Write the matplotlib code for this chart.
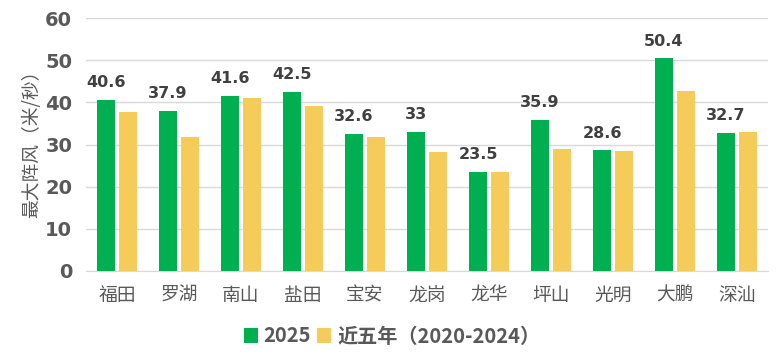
import matplotlib
matplotlib.use("Agg")
import matplotlib.pyplot as plt
import numpy as np

plt.rcParams['font.family'] = ['Noto Sans CJK SC', 'DejaVu Sans']

# Data
districts = ["福田", "罗湖", "南山", "盐田", "宝安", "龙岗", "龙华", "坪山", "光明", "大鹏", "深汕"]
gust_2025 = [40.6, 37.9, 41.6, 42.5, 32.6, 33, 23.5, 35.9, 28.6, 50.4, 32.7]
gust_5yr = [37.8, 31.8, 41.1, 39.2, 31.8, 28.3, 23.5, 29.0, 28.5, 42.8, 33.0]
labels_2025 = ["40.6", "37.9", "41.6", "42.5", "32.6", "33", "23.5", "35.9", "28.6", "50.4", "32.7"]

green = "#00b050"
yellow = "#f5cc5a"
gray = "#595959"

fig = plt.figure(figsize=(7.83, 3.63), dpi=100)
ax = fig.add_axes([86 / 783, 1 - 271 / 363, 682 / 783, 253 / 363])

x = np.arange(len(districts))
w = 0.29
off = 0.177
b1 = ax.bar(x - off, gust_2025, w, color=green, label="2025", zorder=3)
b2 = ax.bar(x + off, gust_5yr, w, color=yellow, label="近五年（2020-2024）", zorder=3)

# value labels on the 2025 bars
for rect, txt in zip(b1, labels_2025):
    ax.annotate(txt, (rect.get_x() + rect.get_width() / 2, rect.get_height()),
                xytext=(0, 7), textcoords="offset points", ha="center", va="bottom",
                fontsize=11.5, fontweight="bold", color="#404040", family="DejaVu Sans")

ax.set_xlim(-0.5, len(districts) - 0.5)
ax.set_ylim(0, 60)
ax.set_yticks(range(0, 61, 10))
ax.set_xticks(x)
ax.set_xticklabels(districts, fontsize=13.5, color=gray)
ax.set_yticklabels([str(v) for v in range(0, 61, 10)], fontsize=14, fontweight="bold",
                   color=gray, family="DejaVu Sans")
ax.tick_params(axis="both", length=0)
ax.tick_params(axis="x", pad=10)
ax.tick_params(axis="y", pad=10)

ax.grid(axis="y", color="#d9d9d9", linewidth=1, zorder=0)
for s in ["top", "right", "left"]:
    ax.spines[s].set_visible(False)
ax.spines["bottom"].set_color("#d9d9d9")

ax.set_ylabel("最大阵风（米/秒）", fontsize=13.5, color=gray)
ax.yaxis.set_label_coords(-0.064, 0.52)

leg = fig.legend(handles=[b1, b2], loc="center", bbox_to_anchor=(392 / 783, 1 - 336 / 363),
                 ncol=2, frameon=False, handlelength=0.7, handleheight=0.7,
                 handletextpad=0.3, columnspacing=0.3,
                 prop={"size": 14.5, "weight": "bold"})
for t in leg.get_texts():
    t.set_color(gray)

fig.savefig("out.png", dpi=100)
